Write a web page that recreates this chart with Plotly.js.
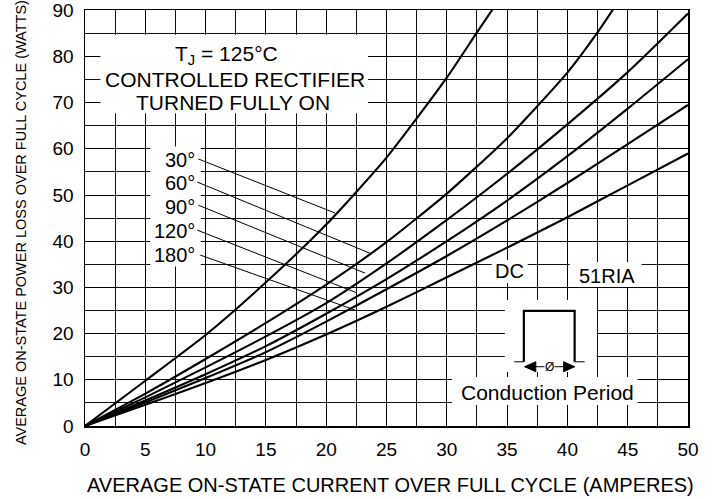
<!DOCTYPE html>
<html>
<head>
<meta charset="utf-8">
<script src="https://cdn.plot.ly/plotly-3.0.1.min.js"></script>
<style>html,body{margin:0;padding:0;background:#fff;}#chart{width:720px;height:499px;}</style>
</head>
<body>
<div id="chart"></div>
<script>
// Curve data (x: average current A, y: power loss W)
const x30  = [0, 5, 10, 15, 20, 25, 30, 32.5, 34];
const y30  = [0, 9.8, 19.7, 31.1, 43.6, 58.1, 75.4, 85.2, 91];
const x60  = [0, 5, 10, 15, 20, 25, 30, 35, 40, 42.5, 44];
const y60  = [0, 7.0, 14.5, 22.3, 30.6, 39.8, 50.3, 62.3, 76.5, 85.2, 91];
const xStd = [0, 5, 10, 15, 20, 25, 30, 35, 40, 45, 50];
const y90  = [0, 6.2, 12.7, 19.4, 26.6, 35.2, 44.6, 54.6, 65.3, 76.6, 89.3];
const y120 = [0, 5.5, 11.2, 17.3, 24.3, 31.8, 40.0, 48.8, 58.4, 68.7, 79.4];
const y180 = [0, 5.1, 10.4, 16.0, 22.6, 29.6, 36.8, 44.5, 52.6, 61.0, 69.5];
const yDC  = [0, 4.6, 9.3, 14.3, 19.8, 25.8, 32.2, 38.6, 45.2, 52.1, 59.0];

const angleLabels = ['30°', '60°', '90°', '120°', '180°'];
const xTickVals = [0, 5, 10, 15, 20, 25, 30, 35, 40, 45, 50];
const yTickVals = [0, 10, 20, 30, 40, 50, 60, 70, 80, 90];

const FONT = 'Liberation Sans, Arial, Helvetica, sans-serif';
const lineStyle = {color: '#000', width: 2.1, shape: 'spline', smoothing: 0.6};

const traces = [
  {x: x30, y: y30},
  {x: x60, y: y60},
  {x: xStd, y: y90},
  {x: xStd, y: y120},
  {x: xStd, y: y180},
  {x: xStd, y: yDC}
].map(t => Object.assign(t, {type: 'scatter', mode: 'lines', line: lineStyle, hoverinfo: 'skip', showlegend: false}));

// label positions (data coords) and leader line ends
const labelY = [57.55, 52.7, 47.5, 42.2, 37.0];
const leaders = [
  [9.40, 57.8, 20.74, 46.1],
  [9.31, 52.8, 23.63, 37.4],
  [9.40, 47.8, 23.22, 33.1],
  [9.31, 42.4, 22.56, 28.8],
  [9.56, 37.0, 22.39, 25.1]
];

const white = (x0, x1, y0, y1) => ({type: 'rect', xref: 'x', yref: 'y', x0, x1, y0, y1,
  fillcolor: '#fff', line: {width: 0}, layer: 'between'});

const shapes = [
  white(1.28, 23.47, 67.7, 84.7),
  white(5.42, 9.6, 34.5, 60.5),
  white(33.73, 36.71, 30.94, 35.92),
  white(40.19, 46.15, 30.07, 35.48),
  white(34.81, 42.43, 11.68, 27.26),
  white(30.42, 45.82, 4.54, 10.6)
];
leaders.forEach(l => shapes.push({type: 'line', xref: 'x', yref: 'y', x0: l[0], y0: l[1], x1: l[2], y1: l[3],
  line: {color: '#000', width: 1}}));
// conduction pulse
shapes.push({type: 'path', xref: 'x', yref: 'y', path: 'M 36.39,13.9 L 36.39,24.9 L 40.6,24.9 L 40.6,13.9',
  line: {color: '#000', width: 2.2}});
shapes.push({type: 'line', xref: 'x', yref: 'y', x0: 35.6, y0: 13.9, x1: 36.39, y1: 13.9, line: {color: '#000', width: 1}});
shapes.push({type: 'line', xref: 'x', yref: 'y', x0: 40.6, y0: 13.9, x1: 41.43, y1: 13.9, line: {color: '#000', width: 1}});
// arrow shaft and heads
shapes.push({type: 'line', xref: 'x', yref: 'y', x0: 36.46, y0: 12.83, x1: 40.6, y1: 12.83, line: {color: '#000', width: 1}});
shapes.push({type: 'path', xref: 'x', yref: 'y', path: 'M 36.46,12.83 L 37.38,13.91 L 37.38,11.75 Z',
  fillcolor: '#000', line: {color: '#000', width: 1}});
shapes.push({type: 'path', xref: 'x', yref: 'y', path: 'M 40.6,12.83 L 39.69,13.91 L 39.69,11.75 Z',
  fillcolor: '#000', line: {color: '#000', width: 1}});

const ann = (text, x, y, size, extra) => Object.assign({text, x, y, xref: 'x', yref: 'y', showarrow: false,
  font: {family: FONT, size, color: '#000'}}, extra || {});

const annotations = [
  ann('T<sub>J</sub> = 125°C', 11.7, 80.4, 21),
  ann('CONTROLLED RECTIFIER', 12.45, 75.1, 21),
  ann('TURNED FULLY ON', 12.25, 70.0, 21),
  ann('DC', 35.22, 33.64, 20),
  ann('51RIA', 43.25, 32.45, 20),
  ann('Conduction Period', 38.33, 7.36, 21),
  ann('Ø', 38.53, 12.76, 12, {bgcolor: '#fff', borderpad: 0})
];
angleLabels.forEach((t, i) => annotations.push(ann(t, 9.31, labelY[i], 20, {xanchor: 'right'})));
annotations.push({text: 'AVERAGE ON-STATE CURRENT OVER FULL CYCLE (AMPERES)', xref: 'paper', yref: 'paper',
  x: 0.506, y: -0.1418, showarrow: false, xanchor: 'center', yanchor: 'middle',
  font: {family: FONT, size: 20, color: '#000'}});
annotations.push({text: 'AVERAGE ON-STATE POWER LOSS OVER FULL CYCLE (WATTS)', xref: 'paper', yref: 'paper',
  x: -0.106, y: 0.488, showarrow: false, textangle: -90, xanchor: 'center', yanchor: 'middle',
  font: {family: FONT, size: 14.5, color: '#000'}});

const layout = {
  width: 720, height: 499,
  margin: {l: 85, r: 32, t: 10, b: 73},
  paper_bgcolor: '#fff', plot_bgcolor: '#fff',
  showlegend: false,
  xaxis: {
    range: [0, 50], tickvals: xTickVals, ticks: '', showgrid: true, gridcolor: '#000', gridwidth: 1,
    minor: {dtick: 2.5, showgrid: true, gridcolor: '#111', gridwidth: 1},
    zeroline: false, showline: true, mirror: true, linecolor: '#000', linewidth: 1.5,
    tickfont: {family: FONT, size: 19, color: '#000'}, ticklabelstandoff: 6, fixedrange: true,
    ticklabeloverflow: 'allow'
  },
  yaxis: {
    range: [0, 90.05], tickvals: yTickVals, ticks: '', showgrid: true, gridcolor: '#000', gridwidth: 1,
    minor: {dtick: 5, showgrid: true, gridcolor: '#111', gridwidth: 1},
    zeroline: false, showline: true, mirror: true, linecolor: '#000', linewidth: 1.5,
    tickfont: {family: FONT, size: 19, color: '#000'}, ticklabelstandoff: 6, fixedrange: true,
    ticklabeloverflow: 'allow'
  },
  shapes, annotations
};

Plotly.newPlot('chart', traces, layout, {displayModeBar: false, staticPlot: true});
</script>
</body>
</html>
